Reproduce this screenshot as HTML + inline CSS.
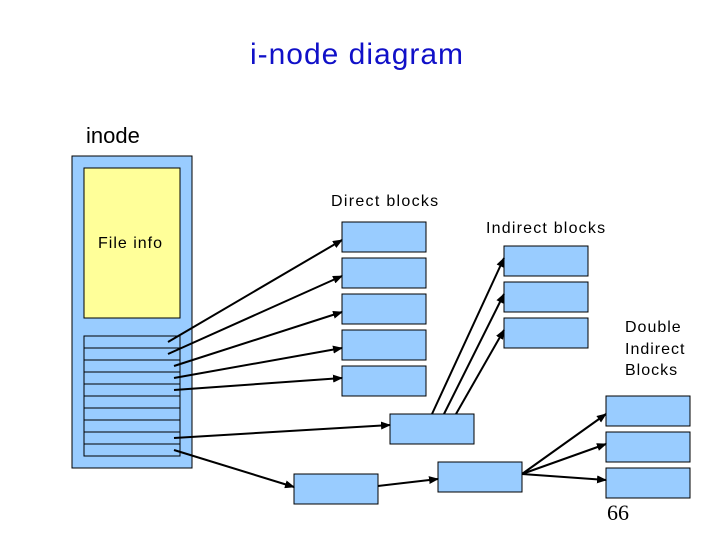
<!DOCTYPE html>
<html><head><style>
html,body{margin:0;padding:0;background:#fff;}
svg{display:block}
text{font-family:"Liberation Sans",sans-serif;}
</style></head><body>
<svg width="720" height="540" viewBox="0 0 720 540" xmlns="http://www.w3.org/2000/svg">
<defs><marker id="a" markerWidth="10" markerHeight="8" refX="9" refY="4" orient="auto" markerUnits="userSpaceOnUse"><path d="M0,0 L10,4 L0,8 z" fill="#000"/></marker></defs>
<text x="357" y="64" font-size="30" fill="#1010c8" text-anchor="middle" letter-spacing="1">i-node diagram</text>
<text x="86" y="143" font-size="22" fill="#000">inode</text>
<rect x="72" y="156" width="120" height="312" fill="#99ccff" stroke="#000"/>
<rect x="84" y="168" width="96" height="150" fill="#ffff99" stroke="#000"/>
<text x="98" y="248" font-size="16" letter-spacing="1">File info</text>
<g fill="#99ccff" stroke="#000">
<rect x="84" y="336" width="96" height="120"/>
</g>
<g stroke="#000">
<line x1="84" y1="348" x2="180" y2="348"/><line x1="84" y1="360" x2="180" y2="360"/><line x1="84" y1="372" x2="180" y2="372"/><line x1="84" y1="384" x2="180" y2="384"/><line x1="84" y1="396" x2="180" y2="396"/><line x1="84" y1="408" x2="180" y2="408"/><line x1="84" y1="420" x2="180" y2="420"/><line x1="84" y1="432" x2="180" y2="432"/><line x1="84" y1="444" x2="180" y2="444"/>
</g>
<text x="331" y="206" font-size="16" letter-spacing="1.3">Direct blocks</text>
<text x="486" y="233" font-size="16" letter-spacing="1.2">Indirect blocks</text>
<text x="625" y="332" font-size="16" letter-spacing="1">Double</text>
<text x="625" y="354" font-size="16" letter-spacing="1">Indirect</text>
<text x="625" y="375" font-size="16" letter-spacing="1">Blocks</text>
<g fill="#99ccff" stroke="#000">
<rect x="342" y="222" width="84" height="30"/><rect x="342" y="258" width="84" height="30"/><rect x="342" y="294" width="84" height="30"/><rect x="342" y="330" width="84" height="30"/><rect x="342" y="366" width="84" height="30"/>
<rect x="504" y="246" width="84" height="30"/><rect x="504" y="282" width="84" height="30"/><rect x="504" y="318" width="84" height="30"/>
<rect x="390" y="414" width="84" height="30"/>
<rect x="294" y="474" width="84" height="30"/>
<rect x="438" y="462" width="84" height="30"/>
<rect x="606" y="396" width="84" height="30"/><rect x="606" y="432" width="84" height="30"/><rect x="606" y="468" width="84" height="30"/>
</g>
<g stroke="#000" stroke-width="2" marker-end="url(#a)">
<line x1="168" y1="342" x2="342" y2="240"/>
<line x1="168" y1="354" x2="342" y2="276"/>
<line x1="174" y1="366" x2="342" y2="312"/>
<line x1="174" y1="378" x2="342" y2="348"/>
<line x1="174" y1="390" x2="342" y2="378"/>
<line x1="174" y1="438" x2="390" y2="425"/>
<line x1="174" y1="450" x2="294" y2="487"/>
<line x1="378" y1="486" x2="438" y2="479"/>
<line x1="432" y1="414" x2="504" y2="258"/>
<line x1="444" y1="414" x2="504" y2="294"/>
<line x1="456" y1="414" x2="504" y2="330"/>
<line x1="522" y1="474" x2="606" y2="414"/>
<line x1="522" y1="474" x2="606" y2="444"/>
<line x1="522" y1="474" x2="606" y2="480"/>
</g>
<text x="607" y="520" font-size="22" style="font-family:'Liberation Serif',serif">66</text>
</svg>
</body></html>
